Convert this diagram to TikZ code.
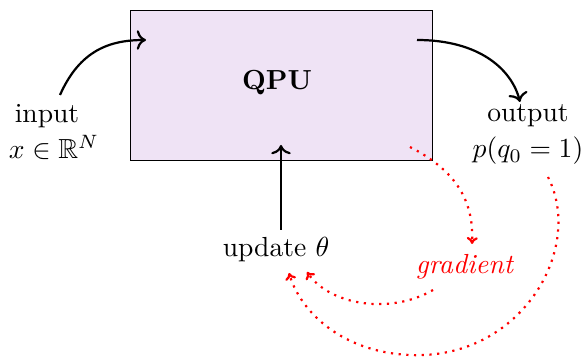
\documentclass[tikz,border=0pt]{standalone}
\usepackage{amsmath,amssymb}
\usetikzlibrary{arrows.meta}
\definecolor{qpufill}{RGB}{239,227,245}
\begin{document}
\begin{tikzpicture}[x=0.3625pt,y=-0.3625pt,
  lbl/.style={inner sep=0pt,anchor=center},
  blk/.style={thick,->},
  grad/.style={red,thick,dotted,-{To[length=2.5pt,width=4pt]}}]
\useasboundingbox (0,0) rectangle (582,358);
\node[draw,line width=0.3pt,fill=qpufill,minimum width=302*0.3625pt,minimum height=150*0.3625pt,inner sep=0pt] (qpu) at (281,85) {};
\node[lbl] (qputxt) at (277,83) {\textbf{QPU}};
\node[lbl] (inp) at (47,116) {input};
\node[lbl] (inpx) at (54,147) {$x\in\mathbb{R}^N$};
\node[lbl] (out) at (528,116) {output};
\node[lbl] (outp) at (528,151) {$p(q_0=1)$};
\node[lbl] (upd) at (276,250) {update $\theta$};
\node[lbl,red] (grd) at (465,267) {\textit{gradient}};
\coordinate (a1) at (60,95);
\coordinate (a2) at (146,40);
\coordinate (b1) at (417,40);
\coordinate (b2) at (520,102);
\coordinate (c1) at (281,230);
\coordinate (c2) at (281,145);
\coordinate (d1) at (410,147);
\coordinate (d2) at (472,244);
\coordinate (e1) at (433,290);
\coordinate (e2) at (307,272);
\coordinate (f1) at (548,177);
\coordinate (f2) at (289,273);
\draw[blk] (a1) .. controls (80,50) and (110,40) .. (a2);
\draw[blk] (b1) .. controls (480,40) and (512,70) .. (b2);
\draw[blk] (c1) -- (c2);
\draw[grad] (d1) .. controls (455,170) and (474,200) .. (d2);
\draw[grad] (e1) .. controls (390,315) and (330,305) .. (e2);
\draw[grad] (f1) .. controls (585,250) and (520,360) .. (410,355) .. controls (340,352) and (300,310) .. (f2);
\end{tikzpicture}
\end{document}
